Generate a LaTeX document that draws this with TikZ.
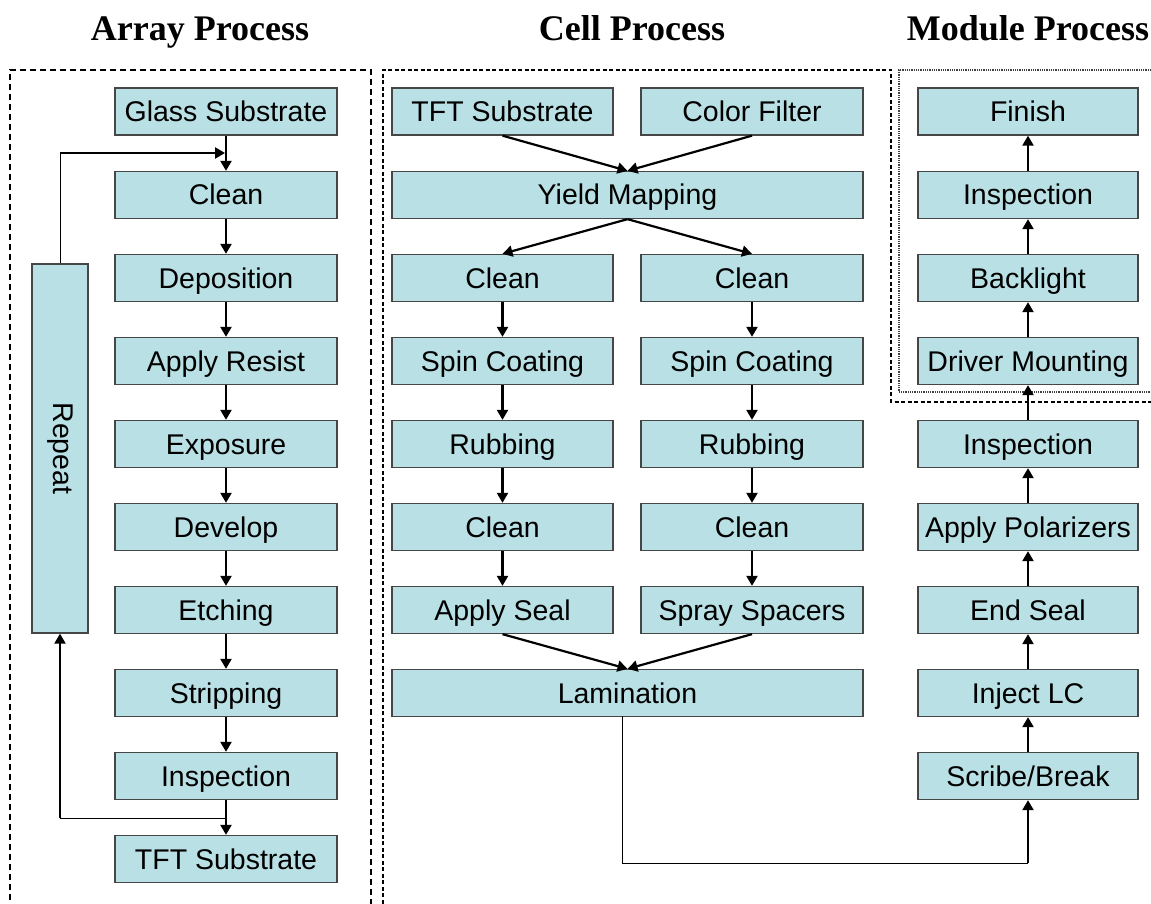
\documentclass[tikz,border=0pt]{standalone}
\usepackage{fontspec}
\setmainfont{Liberation Serif}
\setsansfont{Liberation Sans}
\usetikzlibrary{arrows.meta}
\definecolor{boxfill}{RGB}{185,224,228}
\definecolor{boxline}{RGB}{70,70,70}
\begin{document}
\begin{tikzpicture}[x=1pt,y=-1pt,
  procbox/.style={draw=boxline, line width=1.3pt, fill=boxfill, inner sep=0pt,
    text height=21pt, text depth=1pt,
    minimum height=47pt, font=\sffamily\fontsize{28.5}{30}\selectfont, text=black},
  nbox/.style={procbox, minimum width=222pt},
  wbox/.style={procbox, minimum width=471pt},
  title/.style={font=\bfseries\fontsize{36}{40}\selectfont, anchor=base},
  flow/.style={line width=2.2pt, -{Triangle[length=10pt,width=11pt]}},
  thinline/.style={line width=1pt},
  arrayframe/.style={line width=2pt, dash pattern=on 6pt off 4pt},
  cellframe/.style={line width=1.3pt, dash pattern=on 4pt off 2.5pt},
  modframe/.style={line width=1.8pt, black!75, dash pattern=on 1pt off 0.8pt}
]
\useasboundingbox (0,0) rectangle (1151,904);

% titles
\node[title] (tA) at (200,41) {Array Process};
\node[title] (tC) at (632,41) {Cell Process};
\node[title] (tM) at (1028,41) {Module Process};

% frames
\draw[arrayframe] (10,910) -- (10,70) -- (371,70) -- (371,910);
\draw[cellframe] (383,910) -- (383,70) -- (891,70) -- (891,402) -- (1160,402);
\draw[modframe] (1160,70) -- (899,70) -- (899,392) -- (1160,392);

% array column
\node[nbox] (a1) at (226,111.5) {Glass Substrate};
\node[nbox] (a2) at (226,195) {Clean};
\node[nbox] (a3) at (226,278) {Deposition};
\node[nbox] (a4) at (226,361) {Apply Resist};
\node[nbox] (a5) at (226,444) {Exposure};
\node[nbox] (a6) at (226,527) {Develop};
\node[nbox] (a7) at (226,610) {Etching};
\node[nbox] (a8) at (226,693) {Stripping};
\node[nbox] (a9) at (226,776) {Inspection};
\node[nbox] (a10) at (226,859) {TFT Substrate};
\node[procbox, text height=, text depth=, minimum width=56pt, minimum height=369pt] (rep) at (60,448.5) {\rotatebox{-90}{Repeat}};

\foreach \i/\j in {a1/a2,a2/a3,a3/a4,a4/a5,a5/a6,a6/a7,a7/a8,a8/a9,a9/a10}
  \draw[flow] (\i.south) -- (\j.north);

\coordinate (fbA) at (60,153);
\coordinate (fbB) at (225,153);
\coordinate (fbC) at (226,818);
\coordinate (fbD) at (60,818);
\draw[thinline] (rep.north) -- (fbA);
\draw[flow] (fbA) -- (fbB);
\draw[thinline] (fbC) -- (fbD);
\draw[flow] (fbD) -- (rep.south);

% cell column
\node[procbox, minimum width=221pt] (c1) at (502.5,111.5) {TFT Substrate};
\node[nbox] (c2) at (752,111.5) {Color Filter};
\node[wbox] (ym) at (627.5,195) {Yield Mapping};
\node[procbox, minimum width=221pt] (l1) at (502.5,278) {Clean};
\node[nbox] (r1) at (752,278) {Clean};
\node[procbox, minimum width=221pt] (l2) at (502.5,361) {Spin Coating};
\node[nbox] (r2) at (752,361) {Spin Coating};
\node[procbox, minimum width=221pt] (l3) at (502.5,444) {Rubbing};
\node[nbox] (r3) at (752,444) {Rubbing};
\node[procbox, minimum width=221pt] (l4) at (502.5,527) {Clean};
\node[nbox] (r4) at (752,527) {Clean};
\node[procbox, minimum width=221pt] (l5) at (502.5,610) {Apply Seal};
\node[nbox] (r5) at (752,610) {Spray Spacers};
\node[wbox] (lam) at (627.5,693) {Lamination};

\draw[flow] (c1.south) -- (ym.north);
\draw[flow] (c2.south) -- (ym.north);
\draw[flow] (ym.south) -- (l1.north);
\draw[flow] (ym.south) -- (r1.north);
\foreach \i/\j in {l1/l2,l2/l3,l3/l4,l4/l5,r1/r2,r2/r3,r3/r4,r4/r5}
  \draw[flow] (\i.south) -- (\j.north);
\draw[flow] (l5.south) -- (lam.north);
\draw[flow] (r5.south) -- (lam.north);

% module column
\node[nbox, minimum width=220pt] (m1) at (1028,111.5) {Finish};
\node[nbox, minimum width=220pt] (m2) at (1028,195) {Inspection};
\node[nbox, minimum width=220pt] (m3) at (1028,278) {Backlight};
\node[nbox, minimum width=220pt] (m4) at (1028,361) {Driver Mounting};
\node[nbox, minimum width=220pt] (m5) at (1028,444) {Inspection};
\node[nbox, minimum width=220pt] (m6) at (1028,527) {Apply Polarizers};
\node[nbox, minimum width=220pt] (m7) at (1028,610) {End Seal};
\node[nbox, minimum width=220pt] (m8) at (1028,693) {Inject LC};
\node[nbox, minimum width=220pt] (m9) at (1028,776) {Scribe/Break};

\foreach \i/\j in {m9/m8,m8/m7,m7/m6,m6/m5,m5/m4,m4/m3,m3/m2,m2/m1}
  \draw[flow] (\i.north) -- (\j.south);

\coordinate (lamA) at (622,716);
\coordinate (lamB) at (622,863);
\coordinate (lamC) at (1028,863);
\draw[thinline] (lamA) -- (lamB) -- (lamC);
\draw[flow] (lamC) -- (m9.south);
\end{tikzpicture}
\end{document}
